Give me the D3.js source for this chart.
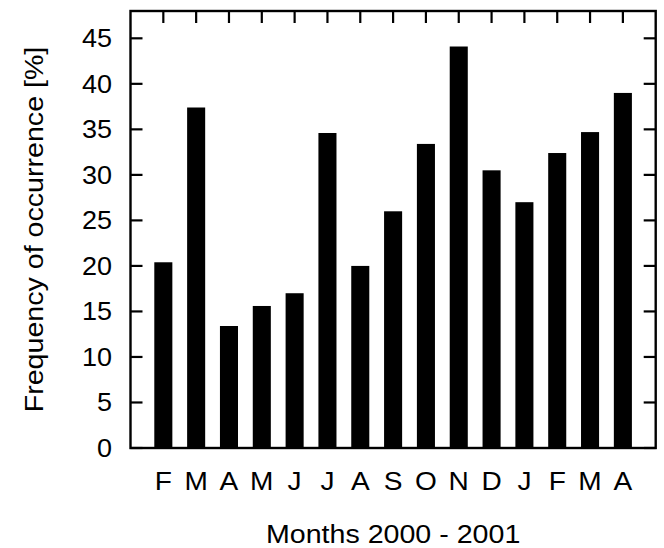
<!DOCTYPE html>
<html>
<head>
<meta charset="utf-8">
<script src="https://cdn.jsdelivr.net/npm/d3@7"></script>
<style>
  html, body { margin: 0; padding: 0; background: #fff; }
  svg { display: block; }
  text { font-family: "Liberation Sans", Arial, Helvetica, sans-serif; fill: #000; }
</style>
</head>
<body>
<svg id="chart" width="664" height="548"></svg>
<script>
// Monthly frequency of occurrence, Feb 2000 – Apr 2001
const months = ["F", "M", "A", "M", "J", "J", "A", "S", "O", "N", "D", "J", "F", "M", "A"];
const frequency = [20.4, 37.4, 13.4, 15.6, 17.0, 34.6, 20.0, 26.0, 33.4, 44.1, 30.5, 27.0, 32.4, 34.7, 39.0];
const yTicks = [0, 5, 10, 15, 20, 25, 30, 35, 40, 45];
const xTitle = "Months 2000 - 2001";
const yTitle = "Frequency of occurrence [%]";

const svg = d3.select("#chart");
const plot = { left: 130.5, right: 655.7, top: 11, bottom: 448 };
const tickLen = 12, barWidth = 0.55;

// Bars sit at integer positions 1..n with one slot of padding on each side
const x = d3.scaleLinear().domain([0, months.length + 1]).range([plot.left, plot.right]);
const y = d3.scaleLinear().domain([0, 48]).range([plot.bottom, plot.top]);
const pos = months.map((_, i) => i + 1);

// Bars
svg.append("g").selectAll("rect")
  .data(frequency)
  .join("rect")
  .attr("x", (d, i) => x(pos[i] - barWidth / 2))
  .attr("width", x(barWidth) - x(0))
  .attr("y", d => y(d))
  .attr("height", d => y(0) - y(d))
  .attr("fill", "#000");

// Inward ticks on all four sides
const ticks = svg.append("g").attr("stroke", "#000").attr("stroke-width", 2.2);
ticks.selectAll(".tl").data(yTicks).join("line")
  .attr("x1", plot.left).attr("x2", plot.left + tickLen)
  .attr("y1", d => y(d)).attr("y2", d => y(d));
ticks.selectAll(".tr").data(yTicks).join("line")
  .attr("x1", plot.right).attr("x2", plot.right - tickLen)
  .attr("y1", d => y(d)).attr("y2", d => y(d));
ticks.selectAll(".tt").data(pos).join("line")
  .attr("x1", d => x(d)).attr("x2", d => x(d))
  .attr("y1", plot.top).attr("y2", plot.top + tickLen);
ticks.selectAll(".tb").data(pos).join("line")
  .attr("x1", d => x(d)).attr("x2", d => x(d))
  .attr("y1", plot.bottom).attr("y2", plot.bottom - tickLen);

// Frame
svg.append("rect")
  .attr("x", plot.left).attr("y", plot.top)
  .attr("width", plot.right - plot.left).attr("height", plot.bottom - plot.top)
  .attr("fill", "none").attr("stroke", "#000").attr("stroke-width", 2.4);

// Helper: slightly wide text, as in the original rendering
function label(g, tx, ty, str, anchor, size, sx, rotate) {
  return g.append("text")
    .attr("transform", `translate(${tx},${ty})` + (rotate ? ` rotate(${rotate})` : "") + ` scale(${sx},1)`)
    .attr("text-anchor", anchor)
    .attr("font-size", size)
    .text(str);
}

// Y tick labels
const yl = svg.append("g");
yTicks.forEach(t => label(yl, 112, y(t) + 9, String(t), "end", 25, 1.08));

// Month labels
const xl = svg.append("g");
months.forEach((m, i) => label(xl, x(pos[i]), 489.5, m, "middle", 26, 1.08));

// Axis titles
label(svg, (plot.left + plot.right) / 2, 543, xTitle, "middle", 26, 1.1);
label(svg, 43, 229.5, yTitle, "middle", 26, 1.1, -90);
</script>
</body>
</html>
